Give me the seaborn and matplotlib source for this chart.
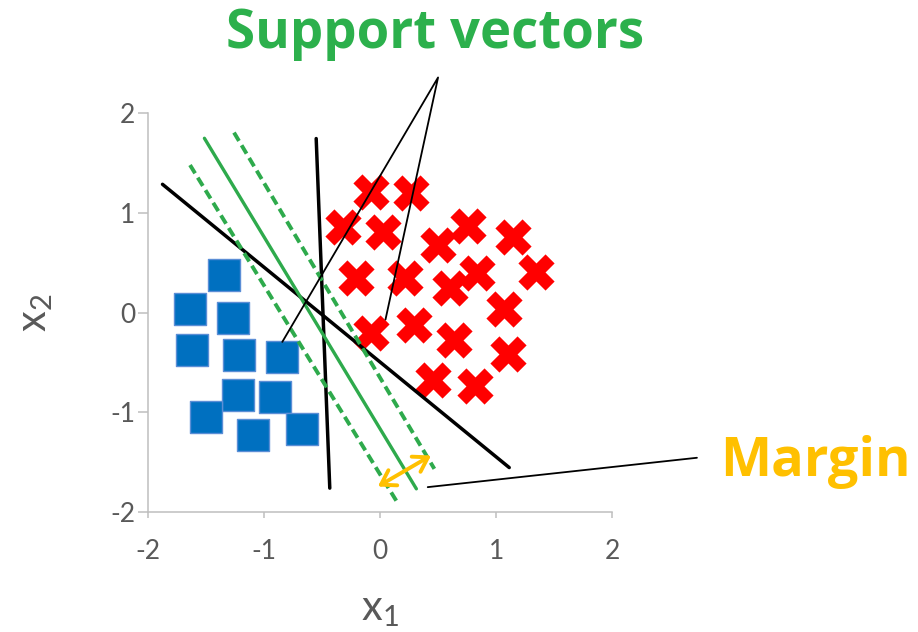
import matplotlib
matplotlib.use("Agg")
import matplotlib.pyplot as plt
import seaborn as sns

# ---------------- data ----------------
# class -1 (blue squares)
square_x = [-1.348, -1.638, -1.265, -1.623, -1.219, -0.846, -1.228, -0.909, -1.503, -1.098, -0.677]
square_y = [0.371, 0.037, -0.053, -0.378, -0.428, -0.445, -0.829, -0.843, -1.046, -1.227, -1.167]

# class +1 (red crosses)
cross_x = [-0.075, 0.264, -0.318, 0.028, 0.757, 1.147, 0.496, 1.339, 0.834, -0.204,
           0.212, 0.605, 1.063, -0.083, 0.289, 0.639, 1.104, 0.453, 0.817]
cross_y = [1.207, 1.194, 0.856, 0.809, 0.866, 0.759, 0.675, 0.411, 0.394, 0.348,
           0.348, 0.241, 0.040, -0.204, -0.127, -0.278, -0.411, -0.672, -0.739]

# candidate separating lines (two end points each)
black_diag_x = [-1.875, 1.112]
black_diag_y = [1.284, -1.552]
black_vert_x = [-0.551, -0.434]
black_vert_y = [1.742, -1.758]

# maximum-margin hyperplane and its margins
svm_x = [-1.514, 0.312]
svm_y = [1.745, -1.765]
margin_low_x = [-1.638, 0.140]
margin_low_y = [1.477, -1.886]
margin_high_x = [-1.259, 0.467]
margin_high_y = [1.802, -1.565]

# annotation pointers
sv_pointer_x = [-0.843, 0.499, 0.046]
sv_pointer_y = [-0.294, 2.354, -0.070]
margin_pointer_x = [0.410, 2.729]
margin_pointer_y = [-1.748, -1.454]
margin_arrow_x = [-0.020, 0.439]
margin_arrow_y = [-1.742, -1.431]

tick_values = [-2, -1, 0, 1, 2]
tick_labels = ["-2", "-1", "0", "1", "2"]

title_text = "Support vectors"
margin_text = "Margin"

# ---------------- style ----------------
sns.set_style("white")
plt.rcParams["font.family"] = ["Lato", "DejaVu Sans"]
plt.rcParams["mathtext.default"] = "regular"
plt.rcParams["axes.unicode_minus"] = False

GREEN_TXT = "#2CB04C"
GREEN_LN = "#2EAA4C"
ORANGE = "#FFC000"
GRAY_TXT = "#595959"
GRAY_AX = "#BFBFBF"

fig = plt.figure(figsize=(9.18, 6.32), dpi=100)
ax = fig.add_axes([148 / 918, 1 - 512.3 / 632, 464.3 / 918, 399.5 / 632])

# markers
sns.scatterplot(x=square_x, y=square_y, marker="s", s=500, color="#0070C0",
                edgecolor="#5B8ED6", linewidth=1.0, ax=ax, zorder=2)
sns.scatterplot(x=cross_x, y=cross_y, marker="X", s=680, color="#FF0000",
                linewidth=0, ax=ax, zorder=2)

# lines
common = dict(sort=False, estimator=None, ax=ax)
sns.lineplot(x=black_diag_x, y=black_diag_y, color="black", linewidth=2.5,
             zorder=3, **common)
sns.lineplot(x=black_vert_x, y=black_vert_y, color="black", linewidth=2.5,
             zorder=3, **common)
sns.lineplot(x=svm_x, y=svm_y, color=GREEN_LN, linewidth=2.4, zorder=3, **common)
for lx, ly in [(margin_low_x, margin_low_y), (margin_high_x, margin_high_y)]:
    sns.lineplot(x=lx, y=ly, color=GREEN_LN, linewidth=2.8,
                 linestyle=(0, (2.5, 1.3)), zorder=3, **common)
sns.lineplot(x=sv_pointer_x, y=sv_pointer_y, color="black", linewidth=1.3,
             clip_on=False, zorder=4, **common)
sns.lineplot(x=margin_pointer_x, y=margin_pointer_y, color="black", linewidth=1.3,
             clip_on=False, zorder=4, **common)

ax.annotate("", xy=(margin_arrow_x[1], margin_arrow_y[1]),
            xytext=(margin_arrow_x[0], margin_arrow_y[0]),
            arrowprops=dict(arrowstyle="<->,head_length=0.55,head_width=0.35",
                            color=ORANGE, lw=2.8, shrinkA=0, shrinkB=0,
                            mutation_scale=18),
            zorder=5, annotation_clip=False)

# axes
ax.set_xlim(-2, 2)
ax.set_ylim(-2, 2)
ax.set_xticks(tick_values)
ax.set_xticklabels(tick_labels)
ax.set_yticks(tick_values)
ax.set_yticklabels(tick_labels)
for side in ["top", "right"]:
    ax.spines[side].set_visible(False)
for side in ["left", "bottom"]:
    ax.spines[side].set_color(GRAY_AX)
    ax.spines[side].set_linewidth(1.1)
ax.tick_params(axis="x", direction="out", length=4.5, width=1.1, color=GRAY_AX,
               labelcolor=GRAY_TXT, labelsize=19, pad=15, bottom=True)
ax.tick_params(axis="y", direction="out", length=7.2, width=1.1, color=GRAY_AX,
               labelcolor=GRAY_TXT, labelsize=19, pad=2, left=True)

ax.set_xlabel("x$_1$", fontsize=30, color=GRAY_TXT)
ax.set_ylabel("x$_2$", fontsize=30, color=GRAY_TXT)
ax.xaxis.set_label_coords(0.5, -0.198)
ax.yaxis.set_label_coords(-0.2, 0.5)

fig.text(435 / 918, 1 - 48 / 632, title_text, ha="center", va="baseline",
         fontsize=38, fontweight="bold", color=GREEN_TXT,
         family=["Open Sans", "DejaVu Sans"])
fig.text(720 / 918, 1 - 476 / 632, margin_text, ha="left", va="baseline",
         fontsize=39, fontweight="bold", color=ORANGE,
         family=["Open Sans", "DejaVu Sans"])

fig.savefig("out.png", dpi=100)
